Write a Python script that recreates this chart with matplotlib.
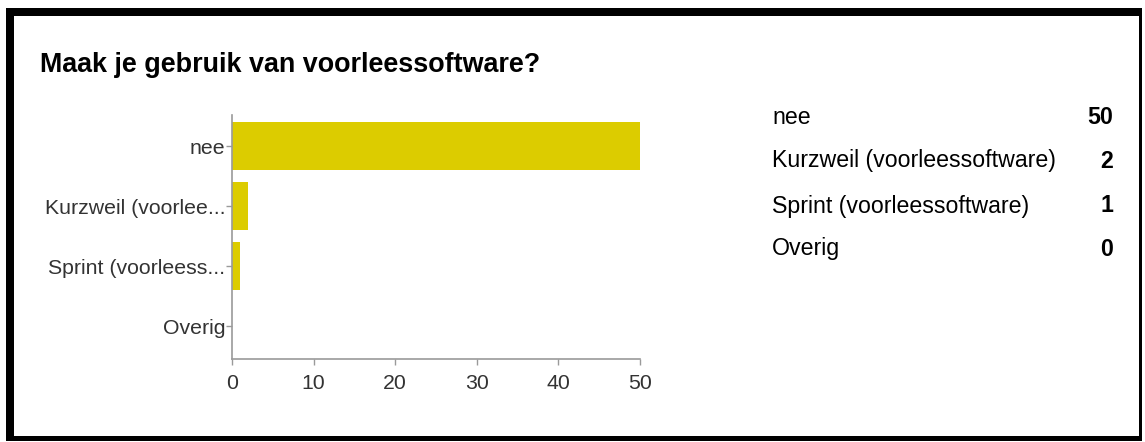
import matplotlib.pyplot as plt
from matplotlib.patches import Rectangle

title = "Maak je gebruik van voorleessoftware?"
categories = ["nee", "Kurzweil (voorlee...", "Sprint (voorleess...", "Overig"]
legend_labels = ["nee", "Kurzweil (voorleessoftware)", "Sprint (voorleessoftware)", "Overig"]
counts = [50, 2, 1, 0]
xticks = [0, 10, 20, 30, 40, 50]

W, H = 1145, 442
bar_color = "#dccc00"
axis_color = "#9a9a9a"

plt.rcParams["font.family"] = ["Liberation Sans", "DejaVu Sans"]

fig = plt.figure(figsize=(W / 100, H / 100), dpi=100)


def fx(px):
    return px / W


def fy(py):
    return 1 - py / H


# black frame around the whole card
for x0, y0, x1, y1 in [(6, 8, 1142, 16), (6, 8, 14, 440), (1139, 8, 1142, 440), (6, 436, 1142, 441)]:
    fig.add_artist(Rectangle((fx(x0), fy(y1)), fx(x1 - x0), (y1 - y0) / H,
                             transform=fig.transFigure, color="black", lw=0))

fig.text(fx(40), fy(65), title, fontsize=19.4, fontweight="bold", va="center", ha="left")

ax = fig.add_axes([fx(232), fy(359), fx(640 - 232), (359 - 115) / H])
ypos = list(range(len(categories)))
ax.barh(ypos, counts, height=0.8, color=bar_color)
ax.set_ylim(3.55, -0.52)
ax.set_xlim(0, 50)
ax.set_yticks(ypos)
ax.set_yticklabels(categories)
ax.set_xticks(xticks)
for s in ["top", "right"]:
    ax.spines[s].set_visible(False)
for s in ["left", "bottom"]:
    ax.spines[s].set_color(axis_color)
    ax.spines[s].set_linewidth(1.2)
ax.tick_params(axis="both", colors=axis_color, labelcolor="#333333", labelsize=15.3, length=4, width=1)
ax.tick_params(axis="y", pad=1)
ax.tick_params(axis="x", pad=6.5)

# table of values on the right
rows_y = [118, 161, 206, 249]
for lab, val, yy in zip(legend_labels, counts, rows_y):
    fig.text(fx(772), fy(yy), lab, fontsize=16.7, va="center", ha="left", color="black")
    fig.text(fx(1113), fy(yy), str(val), fontsize=16.7, fontweight="bold", va="center", ha="right", color="black")

fig.savefig("out.png", dpi=100)
